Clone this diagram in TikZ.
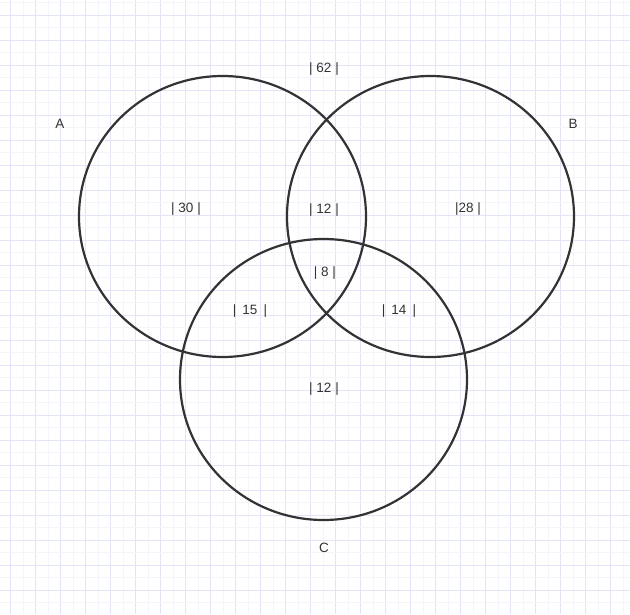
\documentclass[tikz,border=0pt]{standalone}
\usepackage{fontspec}
\setmainfont{Liberation Sans}
\definecolor{gridmaj}{RGB}{228,228,248}
\definecolor{gridmin}{RGB}{244,244,251}
\definecolor{ink}{RGB}{51,51,51}
\begin{document}
\begin{tikzpicture}[x=1pt,y=-1pt,
  lbl/.style={text=ink,font=\fontsize{13.5}{16}\selectfont,inner sep=0pt},
  ring/.style={draw=ink,line width=2.2pt}]
\useasboundingbox (0,0) rectangle (630,614);
\fill[white] (0,0) rectangle (630,614);
\foreach \k in {0,...,24} {
  \draw[gridmin,line width=1pt] ({23+25*\k},0) -- ({23+25*\k},614);
  \draw[gridmaj,line width=1pt] ({10.5+25*\k},0) -- ({10.5+25*\k},614);
}
\foreach \k in {0,...,24} {
  \draw[gridmin,line width=1pt] (0,{2.5+25*\k}) -- (630,{2.5+25*\k});
}
\foreach \k in {0,...,23} {
  \draw[gridmaj,line width=1pt] (0,{15+25*\k}) -- (630,{15+25*\k});
}
\coordinate (cA) at (222.5,216.5);
\coordinate (cB) at (430.5,216.5);
\coordinate (cC) at (323.5,379.5);
\draw[ring] (cA) ellipse [x radius=143.5, y radius=140.5];
\draw[ring] (cB) ellipse [x radius=143.5, y radius=140.5];
\draw[ring] (cC) ellipse [x radius=143.5, y radius=140.5];
\node[lbl] (nA) at (60,124) {A};
\node[lbl] (nB) at (573,124) {B};
\node[lbl] (nC) at (324,548) {C};
\node[lbl] (n62) at (324,69) {| 62 |};
\node[lbl] (n30) at (186,209) {| 30 |};
\node[lbl] (nAB) at (324,210) {| 12 |};
\node[lbl] (n28) at (468,209) {|28 |};
\node[lbl] (n8) at (325,273) {| 8 |};
\node[lbl] (n15) at (250,311) {|\, 15\, |};
\node[lbl] (n14) at (399,311) {|\, 14\, |};
\node[lbl] (nCo) at (324,389) {| 12 |};
\end{tikzpicture}
\end{document}
